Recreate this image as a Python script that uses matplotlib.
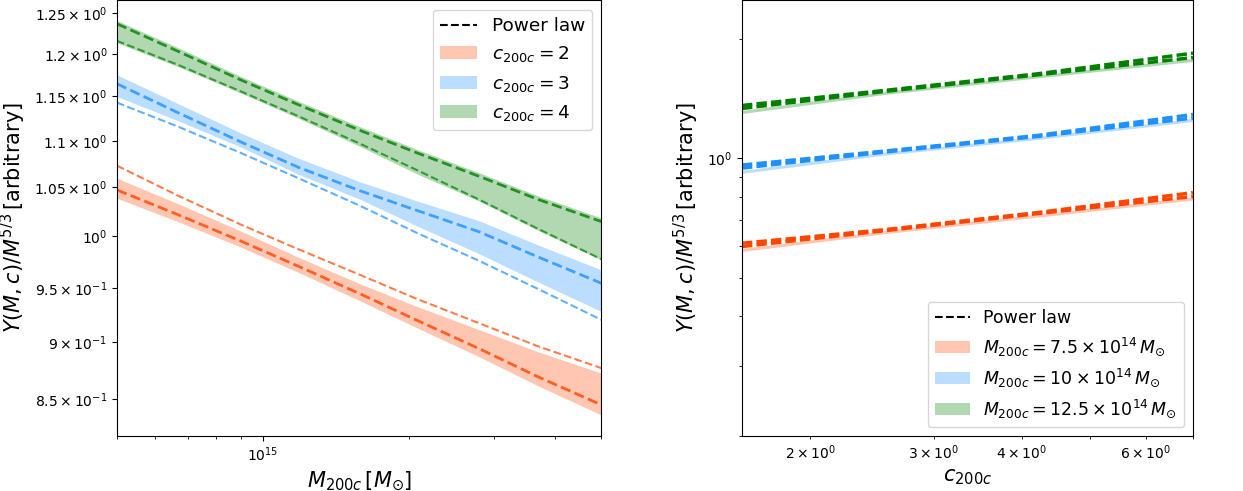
import numpy as np
import matplotlib
matplotlib.use('Agg')
import matplotlib.pyplot as plt
from matplotlib.lines import Line2D
from matplotlib.patches import Patch
from matplotlib.ticker import NullFormatter

# ---- left panel: Y/M^{5/3} vs mass, fixed concentration ----
mass = np.array([5.0, 6.7, 9.0, 11.8, 15.9, 20.8, 28.0, 37.0, 50.0]) * 1e14

c2_lo = [1.0388, 1.0145, 0.9894, 0.9650, 0.9375, 0.9127, 0.8866, 0.8613, 0.8366]
c2_hi = [1.0597, 1.0329, 1.0054, 0.9796, 0.9535, 0.9324, 0.9109, 0.8911, 0.8723]
c2_pl = [1.0474, 1.0216, 0.9954, 0.9709, 0.9441, 0.9196, 0.8938, 0.8691, 0.8451]
c2_pl2 = [1.0731, 1.0412, 1.0119, 0.9875, 0.9621, 0.9394, 0.9168, 0.8960, 0.8767]

c3_lo = [1.1498, 1.1221, 1.0934, 1.0643, 1.0375, 1.0104, 0.9826, 0.9554, 0.9277]
c3_hi = [1.1749, 1.1414, 1.1088, 1.0814, 1.0558, 1.0360, 1.0155, 0.9914, 0.9670]
c3_pl = [1.1645, 1.1311, 1.0989, 1.0717, 1.0464, 1.0262, 1.0044, 0.9796, 0.9542]
c3_pl2 = [1.1428, 1.1155, 1.0869, 1.0601, 1.0308, 1.0034, 0.9757, 0.9488, 0.9200]

c4_lo = [1.2131, 1.1844, 1.1540, 1.1255, 1.0937, 1.0643, 1.0357, 1.0059, 0.9767]
c4_hi = [1.2405, 1.2070, 1.1732, 1.1448, 1.1155, 1.0907, 1.0654, 1.0412, 1.0185]
c4_pl = [1.2364, 1.2026, 1.1691, 1.1408, 1.1114, 1.0869, 1.0616, 1.0375, 1.0148]
c4_pl2 = [1.2155, 1.1865, 1.1558, 1.1278, 1.0967, 1.0684, 1.0372, 1.0075, 0.9774]

# ---- right panel: Y/M^{5/3} vs concentration, fixed mass ----
conc = [1.6, 2.55, 4.2, 7.0]

m75_pl = [0.6111, 0.6610, 0.7297, 0.8197]
m75_pl2 = [0.5995, 0.6572, 0.7255, 0.8018]
m75_lo = [0.5825, 0.6457, 0.7107, 0.7854]
m75_hi = [0.5930, 0.6574, 0.7236, 0.7996]

m10_pl = [0.9618, 1.0433, 1.1418, 1.2900]
m10_pl2 = [0.9451, 1.0373, 1.1351, 1.2640]
m10_lo = [0.9168, 1.0191, 1.1153, 1.2384]
m10_hi = [0.9334, 1.0376, 1.1354, 1.2607]

m125_pl = [1.3594, 1.4832, 1.6326, 1.8414]
m125_pl2 = [1.3359, 1.4746, 1.6231, 1.7949]
m125_lo = [1.2973, 1.4488, 1.5947, 1.7553]
m125_hi = [1.3207, 1.4750, 1.6236, 1.7870]

cols = ['orangered', 'dodgerblue', 'green']
c_labels = [r'$c_{200c} = 2$', r'$c_{200c} = 3$', r'$c_{200c} = 4$']
m_labels = [r'$M_{200c} = 7.5 \times 10^{14}\,M_{\odot}$',
            r'$M_{200c} = 10 \times 10^{14}\,M_{\odot}$',
            r'$M_{200c} = 12.5 \times 10^{14}\,M_{\odot}$']
ylab = r'$Y(M, c)/M^{5/3}\,[\mathrm{arbitrary}]$'

fig = plt.figure(figsize=(12.43, 4.91), dpi=100)
ax1 = fig.add_axes([0.0941, 0.1126, 0.3898, 0.8864])
ax2 = fig.add_axes([0.5969, 0.1126, 0.3628, 0.8864])

left_sets = [(c2_lo, c2_hi, c2_pl, c2_pl2),
             (c3_lo, c3_hi, c3_pl, c3_pl2),
             (c4_lo, c4_hi, c4_pl, c4_pl2)]
for (lo, hi, pl, pl2), col in zip(left_sets, cols):
    ax1.fill_between(mass, lo, hi, color=col, alpha=0.3, lw=0)
for (lo, hi, pl, pl2), col in zip(left_sets, cols):
    ax1.plot(mass, pl, '--', color=col, lw=2.0, alpha=0.8)
    ax1.plot(mass, pl2, '--', color=col, lw=1.5, alpha=0.7)

ax1.set_xscale('log')
ax1.set_yscale('log')
ax1.set_xlim(5e14, 5e15)
ax1.set_ylim(0.8195, 1.2655)
ax1.set_yticks([0.85, 0.9, 0.95, 1.0, 1.05, 1.1, 1.15, 1.2, 1.25])
ax1.xaxis.set_minor_formatter(NullFormatter())
ax1.set_xlabel(r'$M_{200c}\,[M_{\odot}]$', fontsize=15)
ax1.set_ylabel(ylab, fontsize=15)

handles = [Line2D([], [], ls='--', color='k', lw=1.5, label='Power law')]
handles += [Patch(color=col, alpha=0.3, lw=0, label=l) for col, l in zip(cols, c_labels)]
ax1.legend(handles=handles, loc='upper right', fontsize=13.3)

right_sets = [(m75_lo, m75_hi, m75_pl, m75_pl2),
              (m10_lo, m10_hi, m10_pl, m10_pl2),
              (m125_lo, m125_hi, m125_pl, m125_pl2)]
for (lo, hi, pl, pl2), col in zip(right_sets, cols):
    ax2.fill_between(conc, lo, hi, color=col, alpha=0.3, lw=0)
    ax2.plot(conc, pl, color=col, lw=2.5, dashes=(3, 1.2))
    ax2.plot(conc, pl2, color=col, lw=2.5, dashes=(3, 1.2))

ax2.set_xscale('log')
ax2.set_yscale('log')
ax2.set_xlim(1.6, 7.0)
ax2.set_ylim(0.2, 2.5)
ax2.set_xlabel(r'$c_{200c}$', fontsize=15)
ax2.set_ylabel(ylab, fontsize=15)

handles = [Line2D([], [], ls='--', color='k', lw=1.5, label='Power law')]
handles += [Patch(color=col, alpha=0.3, lw=0, label=l) for col, l in zip(cols, m_labels)]
ax2.legend(handles=handles, loc='lower right', fontsize=12.5)

fig.savefig('out.png', dpi=100)
